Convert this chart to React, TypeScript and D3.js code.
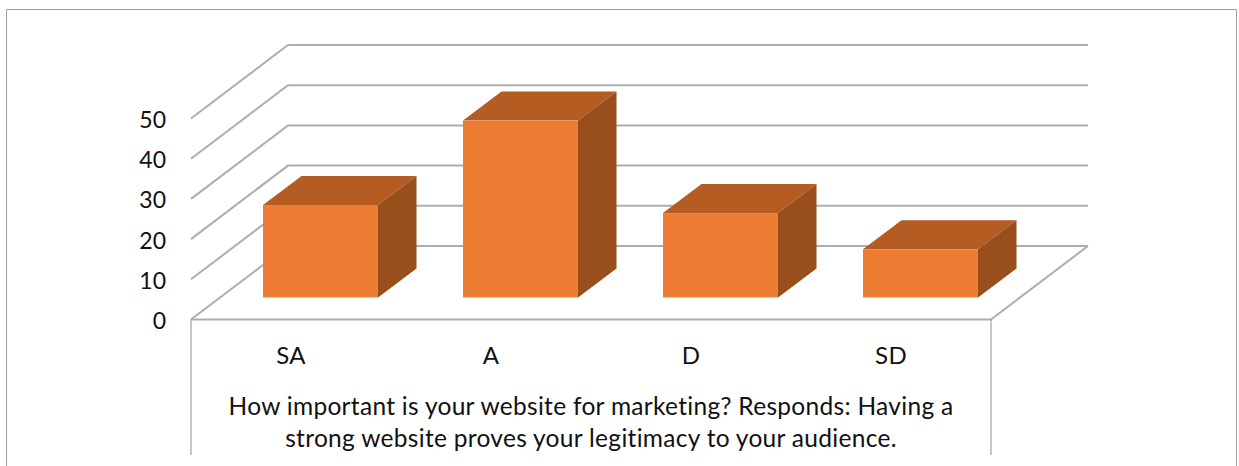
import React from "react";
import * as d3 from "d3";

const categories = ["SA", "A", "D", "SD"];
const values = [23, 44, 21, 12];
const yTicks = [0, 10, 20, 30, 40, 50];
const titleLines = [
  "How important is your website for marketing? Responds: Having a",
  "strong website proves your legitimacy to your audience.",
];

const W = 1239;
const H = 466;
const FONT = "Lato, Carlito, 'Open Sans', sans-serif";
const GRID = "#adadad";
const FRAME = "#a0a0a0";

const floorLeft = 191;
const floorRight = 991;
const floorY = 319.5;
const depthX = 97;
const depthY = 73.5;
const barDepthX = 38.5;
const barDepthY = 29;
const barOffsetX = 29.5;
const barOffsetY = 22;

export default function App() {
  const y = d3.scaleLinear().domain([0, 50]).range([floorY, floorY - 201]);
  const x = d3
    .scaleBand<string>()
    .domain(categories)
    .range([floorLeft, floorRight])
    .paddingInner(0.425)
    .paddingOuter(0.2125);
  const poly = d3.line();

  return (
    <svg
      width={W}
      height={H}
      viewBox={`0 0 ${W} ${H}`}
      style={{ position: "fixed", left: 0, top: 0, display: "block", background: "#fff" }}
    >
      <defs>
        <filter id="soft" filterUnits="userSpaceOnUse" x="0" y="0" width={W} height={H}>
          <feGaussianBlur stdDeviation="0.5" />
        </filter>
      </defs>
      <path d={`M6.5,${H} V9.5 H1236.5 V${H}`} fill="none" stroke={FRAME} strokeWidth={1} />

      <g fill="none" stroke={GRID} strokeWidth={2} filter="url(#soft)">
        {yTicks.map((t) => (
          <path
            key={t}
            d={
              poly([
                [floorLeft, y(t)],
                [floorLeft + depthX, y(t) - depthY],
                [floorRight + depthX, y(t) - depthY],
              ]) ?? ""
            }
          />
        ))}
        <path
          d={
            poly([
              [floorLeft, floorY],
              [floorRight, floorY],
              [floorRight + depthX, floorY - depthY],
            ]) ?? ""
          }
        />
      </g>
      <g stroke="#8f8f8f" strokeWidth={1}>
        <line x1={floorLeft} x2={floorLeft} y1={floorY} y2={455} />
        <line x1={floorRight} x2={floorRight} y1={floorY} y2={455} />
      </g>

      <g filter="url(#soft)">
        {categories.map((c, i) => {
          const x0 = (x(c) ?? 0) + barOffsetX;
          const x1 = x0 + x.bandwidth();
          const base = floorY - barOffsetY;
          const top = base - (y(0) - y(values[i]));
          return (
            <g key={c}>
              <path
                fill="#b45c20"
                d={
                  poly([
                    [x0, top],
                    [x0 + barDepthX, top - barDepthY],
                    [x1 + barDepthX, top - barDepthY],
                    [x1, top],
                  ]) + "Z"
                }
              />
              <path
                fill="#984f1c"
                d={
                  poly([
                    [x1, top],
                    [x1 + barDepthX, top - barDepthY],
                    [x1 + barDepthX, base - barDepthY],
                    [x1, base],
                  ]) + "Z"
                }
              />
              <rect x={x0} y={top} width={x1 - x0} height={base - top} fill="#ed7d31" />
            </g>
          );
        })}
      </g>

      <g fontFamily={FONT} fontSize={23} fill="#111">
        {yTicks.map((t) => (
          <text key={t} x={166} y={y(t) + 9.5} textAnchor="end">
            {t}
          </text>
        ))}
      </g>
      <g fontFamily={FONT} fontSize={24} letterSpacing={0.3} fill="#111" textAnchor="middle">
        {categories.map((c) => (
          <text key={c} x={(x(c) ?? 0) + x.bandwidth() / 2} y={364}>
            {c}
          </text>
        ))}
      </g>
      <g fontFamily={FONT} fontSize={24.5} letterSpacing={0.3} fill="#111" textAnchor="middle">
        {titleLines.map((l, i) => (
          <text key={i} x={591} y={415 + i * 32}>
            {l}
          </text>
        ))}
      </g>
    </svg>
  );
}
